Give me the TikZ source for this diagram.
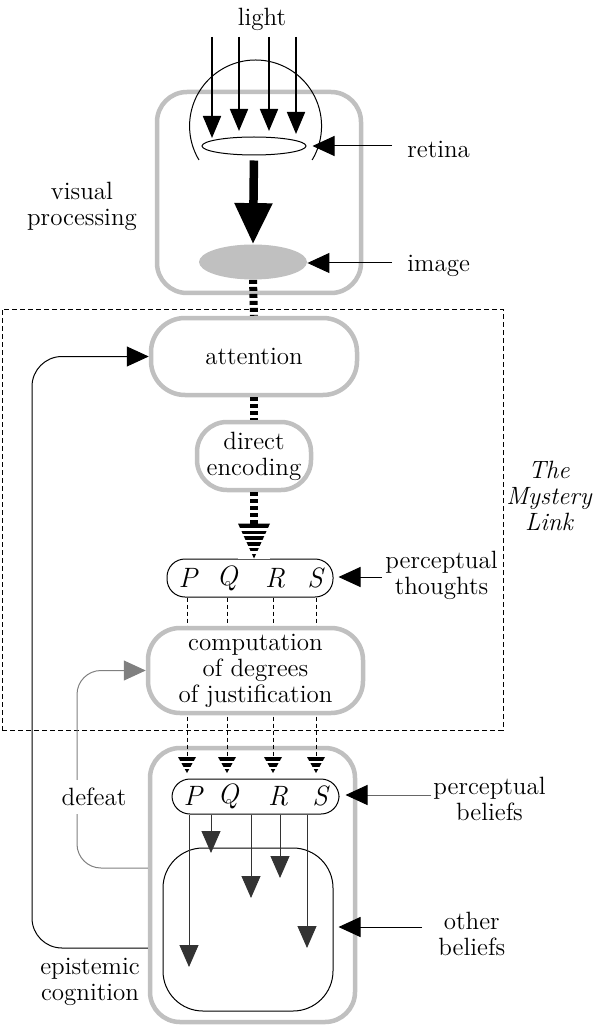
\documentclass[tikz,border=0pt]{standalone}
\usepackage{tikz}
\usetikzlibrary{positioning, arrows.meta, calc, shapes.geometric}
\definecolor{boxgray}{RGB}{192,192,192}
\definecolor{defeatgray}{RGB}{128,128,128}
\tikzstyle{graybox} = [rectangle, draw=boxgray, line width=2.25pt, fill=white, align=center, inner sep=0pt]
\tikzstyle{pill} = [rectangle, draw, line width=0.5pt, rounded corners=9pt, fill=white, inner sep=0pt]
\tikzstyle{stripe} = [draw, line width=4pt, dash pattern=on 2pt off 1.5pt]
\tikzstyle{thindash} = [draw, line width=0.5pt, dash pattern=on 2pt off 1.5pt]
\tikzstyle{frame} = [draw, line width=0.5pt, dash pattern=on 2.5pt off 1.5pt]
\tikzstyle{ray} = [draw, line width=0.9pt, -{Triangle[length=11pt, width=9pt]}]
\tikzstyle{fatarrow} = [draw, line width=4.25pt, -{Triangle[length=20.5pt, width=18pt]}]
\tikzstyle{pointer} = [draw, line width=0.5pt, -{Triangle[length=11pt, width=10pt, color=black]}]
\tikzstyle{belief} = [draw=black!80, line width=0.5pt, -{Triangle[length=11pt, width=9.5pt]}]
\tikzstyle{defeatline} = [draw=defeatgray, line width=0.5pt, rounded corners=12pt, -{Triangle[length=11pt, width=10pt]}]
\tikzstyle{loopline} = [draw, line width=0.5pt, rounded corners=15pt, -{Triangle[length=11pt, width=10pt]}]
\tikzstyle{note} = [align=center, inner sep=0pt, anchor=west]
\tikzstyle{letter} = [font=\fontsize{14}{14}\selectfont\itshape, inner sep=0pt]
\tikzset{
  stripehead/.style n args={4}{rectangle, inner sep=0pt, outer sep=0pt, fill=white,
    minimum width=#1, minimum height=#2,
    path picture={
      \fill[black] (path picture bounding box.north west) -- (path picture bounding box.north east)
        -- (path picture bounding box.south) -- cycle;
      \foreach \k in {1,...,#3}
        \draw[white, line width=#4]
          ($(path picture bounding box.north west)!{\k/(#3+1)}!(path picture bounding box.south west)$)
          -- ($(path picture bounding box.north east)!{\k/(#3+1)}!(path picture bounding box.south east)$);
    }}
}

\begin{document}
\begin{tikzpicture}[x=0.5pt, y=-0.5pt, font=\fontsize{12.5}{13}\selectfont]
    \useasboundingbox (0,0) rectangle (593,1026);

    % visual processing
    \node (visbox) [graybox, rounded corners=15pt, minimum width=102pt, minimum height=100.5pt] at (259,192.5) {};
    \node (light) at (262,19) {light};
    \node (retina) [ellipse, draw, line width=0.5pt, fill=white, minimum width=52pt, minimum height=9pt, inner sep=0pt] at (254,146) {};
    \node (image) [ellipse, fill=boxgray, minimum width=54pt, minimum height=17.5pt, inner sep=0pt] at (253,262) {};
    \draw[line width=0.5pt] (199,160) arc[start angle=149, end angle=391, radius=66];
    \foreach \x/\y in {212/138, 239/131, 269/131, 296/134}
        \draw[ray] (\x,37) -- (\x,\y);
    \draw[fatarrow, shorten <=2.5pt] (retina.south) -- (image.north);

    \node (retlab) [note] at (407,149) {retina};
    \draw[pointer, shorten <=7.5pt, shorten >=3pt] ([yshift=1.5pt]retlab.west) -- ([yshift=1.5pt]retlab.west -| retina.east);
    \node (imglab) [note] at (407,266) {image};
    \draw[pointer, shorten <=7.5pt] ([yshift=1.5pt]imglab.west) -- ([yshift=1.5pt]imglab.west -| image.east);
    \node (vislab) [align=center] at (82,206) {visual\\processing};

    % the mystery link
    \node (mystery) [frame, minimum width=250.5pt, minimum height=210.5pt, inner sep=0pt] at (252.5,519.5) {};
    \node (mystlab) [align=center, font=\fontsize{12.5}{13}\selectfont\itshape] at (549,496) {The\\Mystery\\Link};

    \node (attn) [graybox, rounded corners=17pt, minimum width=103pt, minimum height=38.5pt] at (254,356.5) {attention};
    \node (dirEnc) [graybox, rounded corners=15pt, minimum width=57pt, minimum height=34pt] at (254,456) {direct\\encoding};
    \node (thoughts) [pill, minimum width=83pt, minimum height=19pt] at (250,578) {};
    \foreach \n/\x in {P/188, Q/227, R/275, S/315}
        \node (t\n) [letter] at (\x,578) {\n};

    \draw[stripe] (image.south) -- (attn.north);
    \draw[stripe] (attn.south) -- (dirEnc.north);
    \node (bighead) [stripehead={16pt}{17.5pt}{5}{1.3pt}, anchor=south] at (dirEnc.south |- thoughts.north) {};
    \draw[stripe] (dirEnc.south) -- (bighead.north);

    \node (thlab) [note] at (385,575) {perceptual\\thoughts};
    \draw[pointer, shorten <=1.5pt, shorten >=2.5pt] ([yshift=-1pt]thlab.west) -- ([yshift=-1pt]thlab.west -| thoughts.east);

    % epistemic cognition
    \node (epibox) [graybox, rounded corners=15pt, minimum width=102.5pt, minimum height=137pt] at (252.5,885) {};
    \node (otherbox) [draw, line width=0.5pt, rounded corners=20pt, minimum width=85pt, minimum height=81.5pt] at (248,929.5) {};

    \foreach \n/\x in {P/187, Q/227, R/273, S/316}
        \node (h\n) [stripehead={9pt}{8pt}{2}{1pt}, anchor=south] at (\x,773) {};
    \foreach \n in {P, Q, R, S}
        \draw[thindash] (h\n |- thoughts.south) -- (h\n.north);

    \node (comp) [graybox, rounded corners=16pt, minimum width=107.5pt, minimum height=42.5pt] at (255.5,670.5) {computation\\of degrees\\of justification};

    \node (beliefs) [pill, minimum width=83.5pt, minimum height=17.5pt] at (255.5,796.5) {};
    \foreach \n/\x in {P/193, Q/228, R/278, S/320}
        \node (b\n) [letter] at (\x,796) {\n};
    \foreach \x/\y [count=\i] in {189/967, 211/853, 251/898, 280/878, 307/948} {
        \coordinate (end\i) at (\x,\y);
        \draw[belief] (beliefs.south -| end\i) -- (end\i);
    }

    \node (bellab) [note] at (433,799) {perceptual\\beliefs};
    \draw[pointer, draw=black!60, shorten <=1pt, shorten >=3pt] ([yshift=2pt]bellab.west) -- ([yshift=2pt]bellab.west -| beliefs.east);
    \node (othlab) [note] at (438,934) {other\\beliefs};
    \draw[pointer, shorten <=8pt, shorten >=2.5pt] ([yshift=3.5pt]othlab.west) -- ([yshift=3.5pt]othlab.west -| otherbox.east);

    % feedback
    \coordinate (dcorner) at (77,670.5);
    \draw[defeatline] ([yshift=8.5pt]epibox.west) -| (dcorner) -- (comp.west);
    \node (defeat) [fill=white, inner sep=4pt] at (94,797) {defeat};
    \coordinate (acorner) at (32,356.5);
    \draw[loopline] ([yshift=-31.5pt]epibox.west) -| (acorner) -- (attn.west);

    \node (epilab) [align=center] at (90,982) {epistemic\\cognition};

\end{tikzpicture}
\end{document}
